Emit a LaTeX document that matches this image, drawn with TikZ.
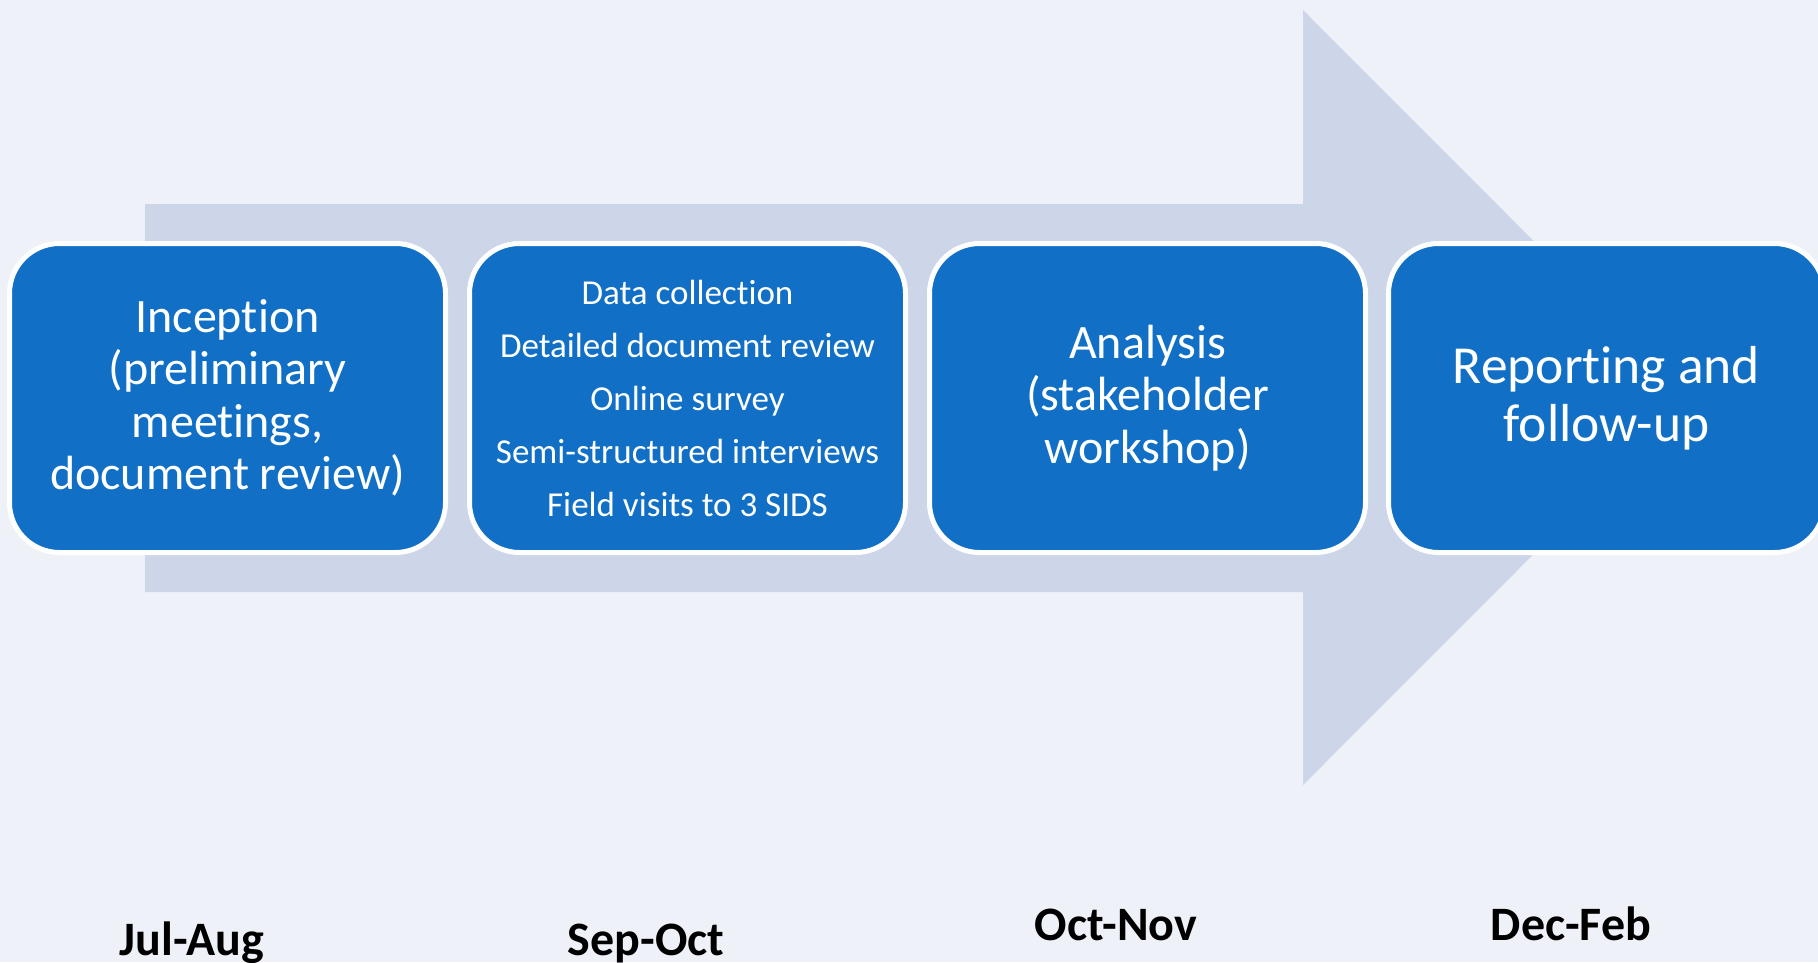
\documentclass[tikz,border=0pt]{standalone}
\usepackage{fontspec}
\setmainfont{Carlito}[Ligatures=NoCommon]
\definecolor{bgcol}{RGB}{238,242,248}
\definecolor{arrowcol}{RGB}{205,213,233}
\definecolor{boxblue}{RGB}{17,112,198}
\begin{document}
\begin{tikzpicture}[x=1pt,y=-1pt,
  phasebox/.style={draw=white,line width=5pt,fill=boxblue,rounded corners=50pt,
    minimum width=436pt,minimum height=309pt,inner sep=0pt,text=white,align=center},
  bigtext/.style={font=\fontsize{48}{52.5}\selectfont},
  smalltext/.style={font=\fontsize{35}{53}\selectfont},
  reptext/.style={font=\fontsize{53.5}{58}\selectfont},
  period/.style={font=\bfseries\fontsize{48}{52}\selectfont,anchor=base,text=black}]
\useasboundingbox (0,0) rectangle (1818,962);
\clip (0,0) rectangle (1818,962);
\fill[bgcol] (0,0) rectangle (1818,962);
\fill[arrowcol] (145,204) -- (1303,204) -- (1303,10) -- (1690,397.5) -- (1303,785) -- (1303,592) -- (145,592) -- cycle;
\node[phasebox,bigtext] (b1) at (227.5,398) {Inception\\(preliminary\\meetings,\\document review)};
\node[phasebox,smalltext] (b2) at (687.5,398) {Data collection\\Detailed document review\\Online survey\\Semi-structured interviews\\Field visits to 3 SIDS};
\node[phasebox,bigtext] (b3) at (1147.5,398) {Analysis\\(stakeholder\\workshop)};
\node[phasebox,reptext] (b4) at (1606.5,398) {Reporting and\\follow-up};
\node[period] (p1) at (192,955) {Jul-Aug};
\node[period] (p2) at (646,955) {Sep-Oct};
\node[period] (p3) at (1116,940) {Oct-Nov};
\node[period] (p4) at (1571,940) {Dec-Feb};
\end{tikzpicture}
\end{document}
